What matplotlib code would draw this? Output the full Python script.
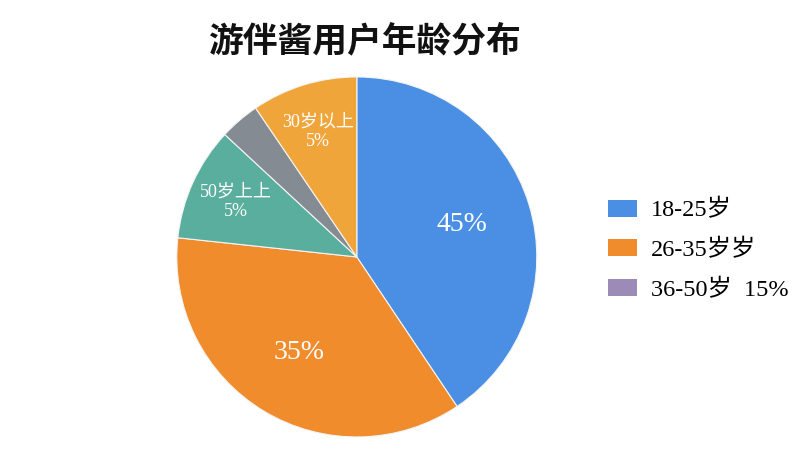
import matplotlib
matplotlib.use("Agg")
import matplotlib.pyplot as plt
import numpy as np
from matplotlib.patches import Patch
from matplotlib.font_manager import FontProperties

# slice data (angles), labels as printed on the chart
shares = [40.6, 36.1, 10.2, 3.6, 9.5]
slice_labels = ["45%", "35%", "50岁上上\n5%", "", "30岁以上\n5%"]
slice_colors = ["#4A8FE3", "#F08C2B", "#5AAE9E", "#858B93", "#F0A53A"]

legend_labels = ["18-25岁", "26-35岁岁", "36-50岁  15%"]
legend_colors = ["#4A8FE3", "#F08C2B", "#9C8BB6"]

title = "游伴酱用户年龄分布"

serif = ["Liberation Serif", "Noto Sans CJK SC"]

fig = plt.figure(figsize=(8, 4.5), dpi=100)
ax = fig.add_axes([0.221, 0.029, 0.45, 0.8])

wedges, texts = ax.pie(shares, colors=slice_colors, startangle=90,
                       counterclock=False,
                       wedgeprops=dict(edgecolor="#F4F4F4", linewidth=0.8))
ax.set_aspect("equal")
ax.set_xlim(-1, 1)
ax.set_ylim(-1, 1)

# label placement: (radius fraction, font size)
label_pos = [(0.61, 20), (0.62, 20), (0.74, 13), (0.6, 10), (0.73, 13)]
for w, lab, (r, fs) in zip(wedges, slice_labels, label_pos):
    mid = np.deg2rad((w.theta1 + w.theta2) / 2)
    if lab:
        ax.text(r * np.cos(mid), r * np.sin(mid), lab, ha="center", va="center",
                color="white", fontsize=fs, family=serif, linespacing=1.2)

fig.text(0.456, 0.91, title, ha="center", va="center", fontsize=25,
         fontweight="bold", family=["Noto Sans CJK SC", "DejaVu Sans"],
         color="#111111")

handles = [Patch(facecolor=c, edgecolor="none") for c in legend_colors]
fig.legend(handles, legend_labels, loc="center left",
           bbox_to_anchor=(0.733, 0.444), frameon=False,
           prop=FontProperties(family=serif, size=17.5),
           handlelength=1.2, handleheight=0.7, handletextpad=0.55,
           labelspacing=0.72)

fig.savefig("out.png", dpi=100, facecolor="white")
